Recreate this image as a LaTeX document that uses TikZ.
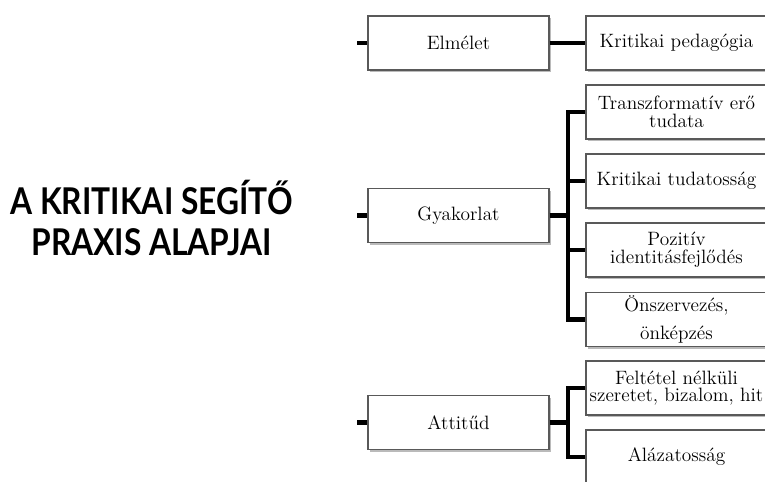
\documentclass[tikz,border=0pt]{standalone}
\usepackage{fontspec}
\usepackage{tikz}
\usetikzlibrary{shadows,calc}
\newfontfamily\titlefont{Lato}
\definecolor{boxline}{rgb}{0.35,0.35,0.35}
\definecolor{shadowgray}{rgb}{0.55,0.55,0.55}
\tikzset{
  box/.style={draw=boxline,line width=0.6pt,fill=white,
    minimum width=3.62cm,minimum height=1.08cm,inner sep=0pt,
    align=center,font=\fontsize{11}{10}\selectfont,
    drop shadow={shadow xshift=0.9pt,shadow yshift=-1.3pt,fill=shadowgray,opacity=0.6}},
  link/.style={line width=2.3pt,black},
}

\begin{document}
\begin{tikzpicture}[x=0.02cm,y=-0.02cm]
      \clip (0,0) rectangle (765,482);
      \fill [white] (0,0) rectangle (765,482);

      % title
      \node (title) at (151.5,218) [align=center,xscale=0.86,transform shape,
        font=\titlefont\bfseries\fontsize{21}{23.3}\selectfont] {A KRITIKAI SEGÍTŐ\\PRAXIS ALAPJAI};

      % first level
      \node [box] (elm) at (458.5,43) {Elmélet};
      \node [box] (gyak) at (458.5,215.5) {Gyakorlat};
      \node [box] (att) at (458.5,422.5) {Attitűd};

      % second level
      \node [box] (krped) at (676.5,43) {Kritikai pedagógia};
      \node [box] (transz) at (676.5,112) {Transzformatív erő\\tudata};
      \node [box] (kritud) at (676.5,181) {Kritikai tudatosság};
      \node [box] (pozid) at (676.5,250) {Pozitív\\identitásfejlődés};
      \node [box] (onsz) at (676.5,319.5) {Önszervezés,\\[6pt]önképzés};
      \node [box] (feltet) at (676.5,388) {Feltétel nélküli\\szeretet, bizalom, hit};
      \node [box] (alaz) at (676.5,457) {Alázatosság};

      % stubs on the left
      \coordinate (elmstub) at (357,43);
      \coordinate (gyakstub) at (357,215.5);
      \coordinate (attstub) at (357,422.5);
      \draw [link] (elmstub) -- (elm.west);
      \draw [link] (gyakstub) -- (gyak.west);
      \draw [link] (attstub) -- (att.west);

      % links
      \draw [link] (elm.east) -- (krped.west);
      \coordinate (gybus) at (568,215.5);
      \draw [link] (gyak.east) -- (gybus);
      \draw [link] (transz.west) -| (gybus |- onsz.west) -- (onsz.west);
      \draw [link] (gybus |- kritud.west) -- (kritud.west);
      \draw [link] (gybus |- pozid.west) -- (pozid.west);
      \coordinate (atbus) at (568,422.5);
      \draw [link] (att.east) -- (atbus);
      \draw [link] (feltet.west) -| (atbus |- alaz.west) -- (alaz.west);
    \end{tikzpicture}
\end{document}
